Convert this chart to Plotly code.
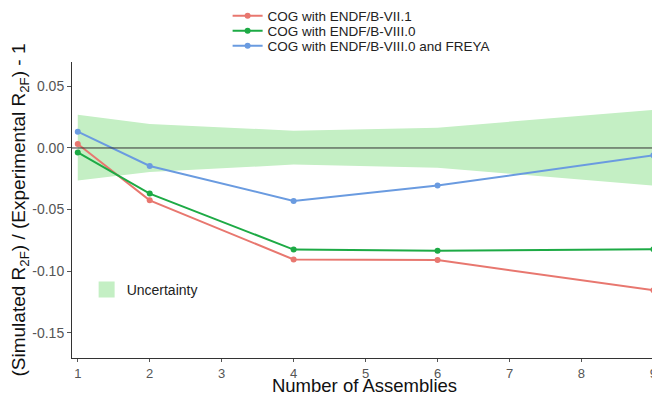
import plotly.graph_objects as go

assemblies = [1, 2, 4, 6, 9]
endf_vii1 = [0.0032, -0.0425, -0.0905, -0.0910, -0.1155]
endf_viii0 = [-0.0036, -0.0370, -0.0825, -0.0835, -0.0822]
endf_viii0_freya = [0.0132, -0.0146, -0.0430, -0.0305, -0.0060]
unc_upper = [0.027, 0.0195, 0.014, 0.0165, 0.031]
unc_lower = [-0.0265, -0.0195, -0.0135, -0.016, -0.0305]

series_names = ["COG with ENDF/B-VII.1", "COG with ENDF/B-VIII.0", "COG with ENDF/B-VIII.0 and FREYA"]
colors = ["#E8776F", "#1DAA45", "#6A9BE0"]
band_color = "#C4EFC4"
xticks = [1, 2, 3, 4, 5, 6, 7, 8, 9]

fig = go.Figure()

fig.add_trace(go.Scatter(
    x=assemblies + assemblies[::-1],
    y=unc_upper + unc_lower[::-1],
    fill="toself", fillcolor=band_color, line=dict(width=0),
    mode="lines", name="Uncertainty", showlegend=False, hoverinfo="skip",
))
# legend-only entry for the band
fig.add_trace(go.Scatter(
    x=[None], y=[None], mode="markers", name="Uncertainty", legend="legend2",
    marker=dict(symbol="square", size=16, color=band_color),
))

legend_ids = ["legend", "legend3", "legend4"]
for name, vals, c, lg in zip(series_names, [endf_vii1, endf_viii0, endf_viii0_freya], colors, legend_ids):
    fig.add_trace(go.Scatter(
        x=assemblies, y=vals, mode="lines+markers", name=name, legend=lg,
        line=dict(color=c, width=2), marker=dict(color=c, size=6),
    ))

fig.add_hline(y=0, line=dict(color="#333333", width=1))

top_legend = lambda yy: dict(x=0.266, xanchor="left", y=yy, yanchor="middle",
                             font=dict(size=13.5, color="#222222"),
                             bgcolor="rgba(0,0,0,0)", itemwidth=30)

fig.update_layout(
    width=652, height=388,
    margin=dict(l=64, r=3, t=54, b=38, autoexpand=False),
    paper_bgcolor="white", plot_bgcolor="white",
    font=dict(family="Liberation Sans, Arial, sans-serif", color="#222222"),
    showlegend=True,
    legend=top_legend(1.1554),
    legend3=top_legend(1.1047),
    legend4=top_legend(1.0541),
    legend2=dict(x=0.025, xanchor="left", y=0.23, yanchor="middle",
                 font=dict(size=14, color="#222222"), bgcolor="rgba(0,0,0,0)"),
    xaxis=dict(range=[0.92, 9.05], tickvals=xticks, showgrid=False, zeroline=False,
               showline=True, linecolor="#333333", linewidth=1,
               ticks="outside", ticklen=3, tickcolor="#555555",
               tickfont=dict(size=13, color="#555555"),
               title=dict(text="Number of Assemblies", font=dict(size=18.5, color="#111111"), standoff=0)),
    yaxis=dict(range=[-0.1705, 0.0698], tickvals=[0.05, 0.0, -0.05, -0.10, -0.15],
               ticktext=["0.05", "0.00", "-0.05", "-0.10", "-0.15"],
               showgrid=False, zeroline=False,
               showline=True, linecolor="#333333", linewidth=1,
               ticks="outside", ticklen=4, tickcolor="#555555",
               tickfont=dict(size=14, color="#555555"),
               title=dict(text="(Simulated R<sub>2F</sub>) / (Experimental R<sub>2F</sub>) - 1",
                          font=dict(size=19, color="#111111"), standoff=5)),
)

fig.write_html("out.html")
